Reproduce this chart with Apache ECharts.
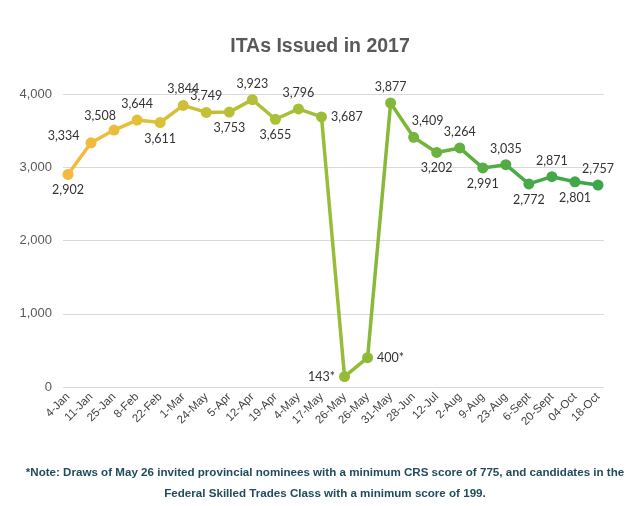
<!DOCTYPE html>
<html>
<head>
<meta charset="utf-8">
<script src="https://cdn.jsdelivr.net/npm/echarts@6/dist/echarts.min.js"></script>
<style>html,body{margin:0;padding:0;background:#fff}#c{width:640px;height:506px}</style>
</head>
<body>
<div id="c"></div>
<script>
var categories = ['4-Jan','11-Jan','25-Jan','8-Feb','22-Feb','1-Mar','24-May','5-Apr','12-Apr','19-Apr','4-May','17-May','26-May','26-May','31-May','28-Jun','12-Jul','2-Aug','9-Aug','23-Aug','6-Sept','20-Sept','04-Oct','18-Oct'];
var itas = [2902,3334,3508,3644,3611,3844,3749,3753,3923,3655,3796,3687,143,400,3877,3409,3202,3264,2991,3035,2772,2871,2801,2757];
var starred = [12, 13];
var yTicks = [0, 1000, 2000, 3000, 4000];

var labelPos = {0:'bottom',1:'left',2:'top',3:'top',4:'bottom',5:'top',6:'top',7:'bottom',8:'top',9:'bottom',10:'top',11:'right',12:'left',13:'right',14:'top',15:'top',16:'bottom',17:'top',18:'bottom',19:'top',20:'bottom',21:'top',22:'bottom',23:'top'};
var labelOff = {1:[-2,-7],2:[-14,2],15:[14,0]};

function fmt(v){return v.toString().replace(/\B(?=(\d{3})+(?!\d))/g, ',');}

var seriesData = itas.map(function(v, i){
  var d = {value: v, label: {position: labelPos[i] || 'top'}};
  if (labelOff[i]) d.label.offset = labelOff[i];
  return d;
});

var chart = echarts.init(document.getElementById('c'), null, {renderer:'canvas'});
chart.setOption({
  animation: false,
  title: [{
    text: 'ITAs Issued in 2017',
    left: 'center', top: 32,
    textStyle: {fontFamily: 'Liberation Sans, Arial, sans-serif', fontSize: 19.5, fontWeight: 'bold', color: '#595959'}
  }, {
    text: '*Note: Draws of May 26 invited provincial nominees with a minimum CRS score of 775, and candidates in the\nFederal Skilled Trades Class with a minimum score of 199.',
    left: 320, top: 457, textAlign: 'center',
    textStyle: {fontFamily: 'Liberation Sans, Arial, sans-serif', fontSize: 11.6, fontWeight: 'bold', color: '#1F4B5C', lineHeight: 21, align: 'center'}
  }],
  grid: [
    {left: 63, right: 36, top: 94, bottom: 119},
    {left: 68, right: 42, top: 94, bottom: 119}
  ],
  xAxis: [
    {gridIndex: 0, type: 'category', data: categories, show: false},
    {gridIndex: 1, type: 'category', data: categories, boundaryGap: false,
     axisLine: {show: false}, axisTick: {show: false},
     axisLabel: {interval: 0, rotate: 45, margin: 8, fontFamily: 'Liberation Sans, Arial, sans-serif', fontSize: 11.5, color: '#404040'}}
  ],
  yAxis: [
    {gridIndex: 0, type: 'value', min: yTicks[0], max: yTicks[yTicks.length-1], interval: 1000,
     axisLine: {show: false}, axisTick: {show: false},
     axisLabel: {formatter: function(v){return fmt(v);}, margin: 11, fontFamily: 'Liberation Sans, Arial, sans-serif', fontSize: 13, color: '#595959'},
     splitLine: {lineStyle: {color: '#D9D9D9', width: 1}}},
    {gridIndex: 1, type: 'value', min: yTicks[0], max: yTicks[yTicks.length-1], interval: 1000, show: false, splitLine: {show: false}}
  ],
  visualMap: {
    show: false, type: 'continuous', dimension: 0, min: 0, max: categories.length - 1, seriesIndex: 0,
    inRange: {color: ['#F6B93E', '#E2C039', '#BEBF37', '#A6BF38', '#8CBA38', '#66B13F', '#48A948', '#3CA64B']}
  },
  series: [{
    type: 'line', xAxisIndex: 1, yAxisIndex: 1,
    data: seriesData,
    symbol: 'circle', symbolSize: 11,
    lineStyle: {width: 3.5},
    label: {show: true, distance: 4, fontFamily: 'Lato, sans-serif', fontSize: 12.5, color: '#333333',
      formatter: function(p){return fmt(p.value) + (starred.indexOf(p.dataIndex) >= 0 ? '*' : '');}}
  }]
});
</script>
</body>
</html>
